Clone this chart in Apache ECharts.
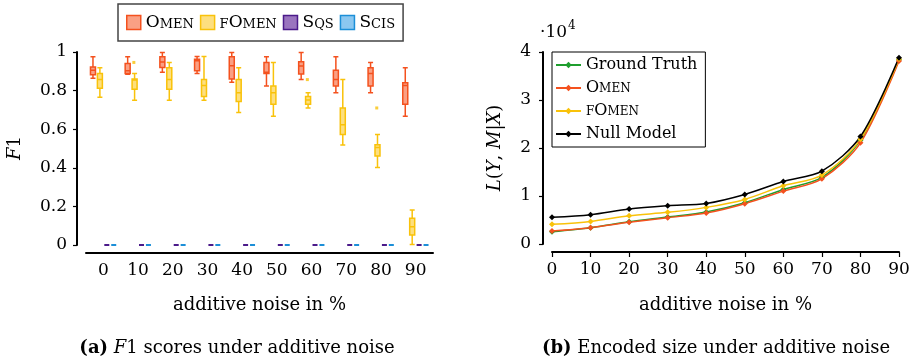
<!DOCTYPE html>
<html>
<head>
<meta charset="utf-8">
<script src="https://cdn.jsdelivr.net/npm/echarts@6/dist/echarts.min.js"></script>
<style>html,body{margin:0;padding:0;background:#fff}#c{width:915px;height:362px}</style>
</head>
<body>
<div id="c"></div>
<script>
// ---- data ----
const categories = ['0','10','20','30','40','50','60','70','80','90'];
// boxplot [min, Q1, median, Q3, max]
const omenBox = [
  [0.864,0.882,0.905,0.922,0.976],
  [0.885,0.889,0.903,0.940,0.976],
  [0.895,0.920,0.948,0.976,0.998],
  [0.888,0.903,0.955,0.962,0.977],
  [0.843,0.860,0.929,0.976,0.998],
  [0.824,0.888,0.895,0.946,0.976],
  [0.857,0.886,0.927,0.950,0.998],
  [0.789,0.824,0.857,0.905,0.976],
  [0.789,0.824,0.888,0.919,0.946],
  [0.667,0.729,0.826,0.841,0.919]
];
const fomenBox = [
  [0.765,0.812,0.857,0.889,0.919],
  [0.750,0.807,0.855,0.860,0.889],
  [0.750,0.807,0.857,0.919,0.946],
  [0.750,0.769,0.826,0.858,0.977],
  [0.687,0.744,0.789,0.858,0.919],
  [0.667,0.729,0.789,0.824,0.946],
  [0.710,0.729,0.751,0.769,0.789],
  [0.518,0.572,0.623,0.710,0.857],
  [0.401,0.461,0.505,0.520,0.572],
  [0.002,0.052,0.095,0.138,0.181]
];
const sqsBox = [[0,0,0,0,0],[0,0,0,0,0],[0,0,0,0,0],[0,0,0,0,0],[0,0,0,0,0],[0,0,0,0,0],[0,0,0,0,0],[0,0,0,0,0],[0,0,0,0,0],[0,0,0,0,0]];
const scisBox = [[0,0,0,0,0],[0,0,0,0,0],[0,0,0,0,0],[0,0,0,0,0],[0,0,0,0,0],[0,0,0,0,0],[0,0,0,0,0],[0,0,0,0,0],[0,0,0,0,0],[0,0,0,0,0]];
const fomenOutliers = [[1,0.946],[6,0.857],[8,0.710]];
const f1Ticks = [0,0.2,0.4,0.6,0.8,1];

const noise = [0,10,20,30,40,50,60,70,80,90];
const gtSize    = [2560,3400,4640,5620,6660,8600,11370,13870,21630,38410];
const omenSize  = [2700,3400,4510,5480,6450,8390,11020,13590,21070,38130];
const fomenSize = [4090,4710,5890,6590,7630,9290,12130,14350,21840,38540];
const nullSize  = [5550,6100,7280,7970,8460,10330,13030,15180,22390,38820];

// ---- style ----
const FF = 'DejaVu Serif';
const C_OMEN = '#f4511e', C_OMEN_FILL = 'rgba(248,120,80,0.7)';
const C_FOMEN = '#f9c20a', C_FOMEN_FILL = 'rgba(253,215,95,0.8)';
const C_SQS = '#4b1a8a', C_SCIS = '#1c8fd8';
const C_GT = '#1f9e2e';

const rich = {
  b: {fontSize: 17, fontFamily: FF, color: '#000', verticalAlign: 'bottom', lineHeight: 17},
  s: {fontSize: 13, fontFamily: FF, color: '#000', verticalAlign: 'bottom', lineHeight: 17}
};
const richR = {
  b: {fontSize: 16, fontFamily: FF, color: '#000', lineHeight: 18},
  s: {fontSize: 12, fontFamily: FF, color: '#000', lineHeight: 18, padding:[2,0,0,0]},
  n: {fontSize: 16, fontFamily: FF, color: '#000', lineHeight: 18}
};
function sc(name){
  const n = name.trim();
  if (n === 'Omen') return '{b|O}{s|MEN}';
  if (n === 'fOmen') return '{s|F}{b|O}{s|MEN}';
  if (n === 'Sqs') return '{b|S}{s|QS}';
  if (n === 'Scis') return '{b|S}{s|CIS}';
  return '{n|' + n + '}';
}

const axisLineStyle = {color: '#000', width: 2};
const labelStyle = {fontFamily: FF, fontSize: 17, color: '#000'};

const chart = echarts.init(document.getElementById('c'), null, {renderer: 'canvas'});
chart.setOption({
  animation: false,
  backgroundColor: '#fff',
  grid: [
    {left: 86, width: 347, top: 52, height: 193},
    {left: 552, width: 347, top: 52, height: 192}
  ],
  legend: [
    {
      left: 118, top: 4, orient: 'horizontal', selectedMode: false,
      padding: [10, 8, 10, 8], itemGap: 6, itemWidth: 14, itemHeight: 14, icon: 'rect',
      borderColor: '#444', borderWidth: 1.5, backgroundColor: '#fff',
      data: [
        {name: 'Omen', itemStyle: {color: C_OMEN_FILL, borderColor: C_OMEN, borderWidth: 1.5}},
        {name: 'fOmen', itemStyle: {color: C_FOMEN_FILL, borderColor: C_FOMEN, borderWidth: 1.5}},
        {name: 'Sqs', itemStyle: {color: 'rgba(120,70,170,0.75)', borderColor: C_SQS, borderWidth: 1.5}},
        {name: 'Scis', itemStyle: {color: 'rgba(100,180,235,0.75)', borderColor: C_SCIS, borderWidth: 1.5}}
      ],
      formatter: sc,
      textStyle: {rich: rich}
    },
    {
      left: 552, top: 52, orient: 'vertical', selectedMode: false,
      padding: [5, 8, 5, 3], itemGap: 7, itemWidth: 25, itemHeight: 8,
      borderColor: '#000', borderWidth: 1, backgroundColor: '#fff',
      data: ['Ground Truth', 'Omen ', 'fOmen ', 'Null Model'],
      formatter: sc,
      textStyle: {rich: richR}
    }
  ],
  xAxis: [
    {
      type: 'category', gridIndex: 0, data: categories, offset: 8,
      axisLine: {onZero: false, lineStyle: axisLineStyle},
      axisTick: {length: 5, lineStyle: {color: '#000', width: 1.2}},
      axisLabel: Object.assign({margin: 9}, labelStyle),
      splitLine: {show: false}
    },
    {
      type: 'value', gridIndex: 1, min: 0, max: 90, interval: 10, offset: 8,
      axisLine: {onZero: false, lineStyle: axisLineStyle},
      axisTick: {length: 5, lineStyle: {color: '#000', width: 1.2}},
      axisLabel: Object.assign({margin: 9}, labelStyle),
      splitLine: {show: false}
    }
  ],
  yAxis: [
    {
      type: 'value', gridIndex: 0, min: f1Ticks[0], max: f1Ticks[f1Ticks.length-1], interval: 0.2, offset: 9,
      axisLine: {show: true, onZero: false, lineStyle: axisLineStyle},
      axisTick: {show: true, length: 4, lineStyle: {color: '#000', width: 1.2}},
      axisLabel: Object.assign({margin: 10}, labelStyle),
      splitLine: {show: false}
    },
    {
      type: 'value', gridIndex: 1, min: 0, max: 40000, interval: 10000, offset: 9,
      axisLine: {show: true, onZero: false, lineStyle: axisLineStyle},
      axisTick: {show: true, length: 4, lineStyle: {color: '#000', width: 1.2}},
      axisLabel: Object.assign({margin: 12, formatter: v => String(v / 10000)}, labelStyle),
      splitLine: {show: false}
    }
  ],
  series: [
    {name: 'Omen', type: 'boxplot', xAxisIndex: 0, yAxisIndex: 0, data: omenBox, boxWidth: [5, 5],
     itemStyle: {color: C_OMEN_FILL, borderColor: C_OMEN, borderWidth: 1.5}},
    {name: 'fOmen', type: 'boxplot', xAxisIndex: 0, yAxisIndex: 0, data: fomenBox, boxWidth: [5, 5],
     itemStyle: {color: C_FOMEN_FILL, borderColor: C_FOMEN, borderWidth: 1.5}},
    {name: 'Sqs', type: 'boxplot', xAxisIndex: 0, yAxisIndex: 0, data: sqsBox, boxWidth: [5, 5],
     itemStyle: {color: C_SQS, borderColor: C_SQS, borderWidth: 2}},
    {name: 'Scis', type: 'boxplot', xAxisIndex: 0, yAxisIndex: 0, data: scisBox, boxWidth: [5, 5],
     itemStyle: {color: C_SCIS, borderColor: C_SCIS, borderWidth: 2}},
    {name: 'fOmen outliers', type: 'scatter', xAxisIndex: 0, yAxisIndex: 0, data: fomenOutliers,
     symbol: 'rect', symbolSize: 3, symbolOffset: [-4.2, 0], itemStyle: {color: C_FOMEN}},

    {name: 'Ground Truth', type: 'line', xAxisIndex: 1, yAxisIndex: 1, smooth: 0.3,
     data: noise.map((x, i) => [x, gtSize[i]]), symbol: 'diamond', symbolSize: 6,
     lineStyle: {color: C_GT, width: 1.5}, itemStyle: {color: C_GT}},
    {name: 'Omen ', type: 'line', xAxisIndex: 1, yAxisIndex: 1, smooth: 0.3,
     data: noise.map((x, i) => [x, omenSize[i]]), symbol: 'diamond', symbolSize: 6,
     lineStyle: {color: C_OMEN, width: 1.5}, itemStyle: {color: C_OMEN}},
    {name: 'fOmen ', type: 'line', xAxisIndex: 1, yAxisIndex: 1, smooth: 0.3,
     data: noise.map((x, i) => [x, fomenSize[i]]), symbol: 'diamond', symbolSize: 6,
     lineStyle: {color: C_FOMEN, width: 1.5}, itemStyle: {color: C_FOMEN}},
    {name: 'Null Model', type: 'line', xAxisIndex: 1, yAxisIndex: 1, smooth: 0.3,
     data: noise.map((x, i) => [x, nullSize[i]]), symbol: 'diamond', symbolSize: 6,
     lineStyle: {color: '#000', width: 1.5}, itemStyle: {color: '#000'}}
  ],
  graphic: [
    {type: 'text', x: 15, y: 148, rotation: Math.PI / 2,
     style: {text: '{i|F}1', fontFamily: FF, fontSize: 18, fill: '#000', textAlign: 'center', textVerticalAlign: 'middle',
             rich: {i: {fontFamily: FF, fontSize: 18, fontStyle: 'italic', color: '#000'}}}},
    {type: 'text', x: 495, y: 148, rotation: Math.PI / 2,
     style: {text: '{i|L}({i|Y}, {i|M}|{i|X})', fontFamily: FF, fontSize: 18, fill: '#000', textAlign: 'center', textVerticalAlign: 'middle',
             rich: {i: {fontFamily: FF, fontSize: 18, fontStyle: 'italic', color: '#000'}}}},
    {type: 'text', x: 540, y: 33,
     style: {text: '·10', fontFamily: FF, fontSize: 17, fill: '#000', textAlign: 'left', textVerticalAlign: 'middle'}},
    {type: 'text', x: 568, y: 26,
     style: {text: '4', fontFamily: FF, fontSize: 12, fill: '#000', textAlign: 'left', textVerticalAlign: 'middle'}},
    {type: 'text', x: 259.5, y: 305,
     style: {text: 'additive noise in %', fontFamily: FF, fontSize: 18, fill: '#000', textAlign: 'center', textVerticalAlign: 'middle'}},
    {type: 'text', x: 725.5, y: 305,
     style: {text: 'additive noise in %', fontFamily: FF, fontSize: 18, fill: '#000', textAlign: 'center', textVerticalAlign: 'middle'}},
    {type: 'text', x: 237, y: 348,
     style: {text: '{bd|(a)} {i|F}1 scores under additive noise', fontFamily: FF, fontSize: 18, fill: '#000', textAlign: 'center', textVerticalAlign: 'middle',
             rich: {bd: {fontFamily: FF, fontSize: 18, fontWeight: 'bold', color: '#000'}, i: {fontFamily: FF, fontSize: 18, fontStyle: 'italic', color: '#000'}}}},
    {type: 'text', x: 716, y: 348,
     style: {text: '{bd|(b)} Encoded size under additive noise', fontFamily: FF, fontSize: 18, fill: '#000', textAlign: 'center', textVerticalAlign: 'middle',
             rich: {bd: {fontFamily: FF, fontSize: 18, fontWeight: 'bold', color: '#000'}}}}
  ]
});
</script>
</body>
</html>
